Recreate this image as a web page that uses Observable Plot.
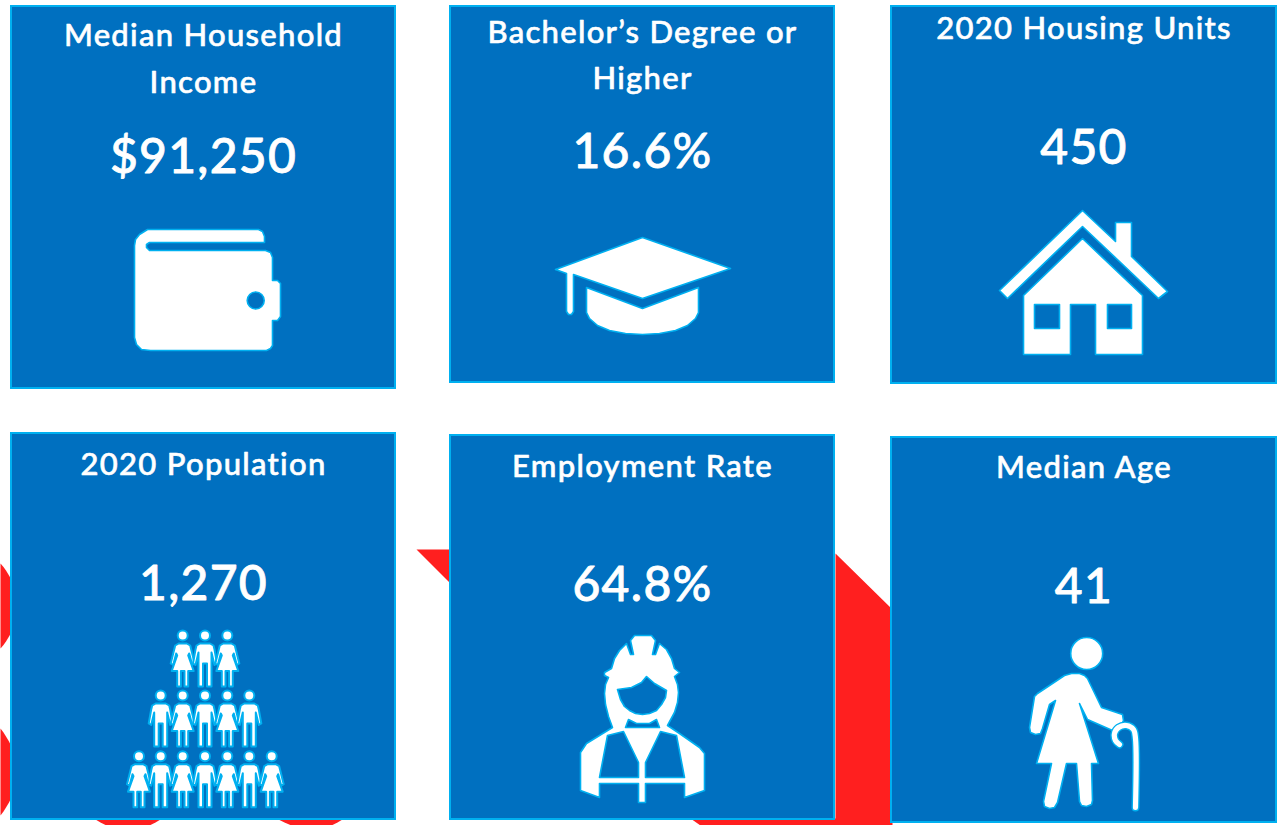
<!DOCTYPE html>
<html><head><meta charset="utf-8">
<style>html,body{margin:0;padding:0;background:#fff}svg{display:block}</style>
<script src="https://cdn.jsdelivr.net/npm/d3@7"></script>
<script src="https://cdn.jsdelivr.net/npm/@observablehq/plot@0.6"></script>
</head><body><div id="chart"></div>
<script>
const titles = ["Median Household\nIncome","Bachelor’s Degree or\nHigher","2020 Housing Units","2020 Population","Employment Rate","Median Age"];
const values = ["$91,250","16.6%","450","1,270","64.8%","41"];
const cardLeft = [11,450,891,11,450,891];
const cardRight = [395,834,1276,395,834,1276];
const cardTop = [6,6,6,433,435,437];
const cardBottom = [388,382,383,819,819,822];
const titleY = [45,42,38,474,476,477];
const titleY2 = [92,88,null,null,null,null];
const valueY = [172,167,163,599,600,602];

const BLUE="#0070C0", EDGE="#00B0F0", RED="#FF1F1F";

const red1=[[0,563],[3,566.5],[5.5,570],[8.5,575],[12,581],[12,630],[8.5,636],[5.5,641],[3,644.5],[0,648]];
const red2=[[0,728],[3,732],[5.5,736],[8.5,741],[12,748],[12,795],[8.5,802],[5.5,807],[3,811],[0,815]];
const red3=[[95,819],[100,822],[106,825],[149,825],[155,822],[160,819]];
const red4=[[278,819],[284,822],[291,825],[331,825],[337,822],[342,819]];
const red5=[[416,549],[451,549],[451,584]];
const red6=[[835,553],[892,609],[892,825],[700,825],[690,818],[835,818]];

const wallet=[[134,245],[135,239],[139,234],[147,229],[258,229],[262,231],[264,236],[264,242],[149,242],[146,244],[146,247],[149,250],[265,250],[270,252],[272,257],[272,280],[277,280],[280,283],[280,316],[277,320],[272,320],[272,345],[270,348],[266,350],[150,350],[141,349],[136,344],[134,337]];
const capTop=[[642,237],[730,268],[642,298],[573,274],[573,311],[571,314],[568,314],[566,311],[566,273],[555,269]];
const capBase=[[586,287],[642,308],[698,287],[698,312],[695,318],[687,325],[675,330],[659,333],[642,334],[625,333],[609,330],[597,325],[589,318],[586,312]];
const houseRoof=[[999,290],[1082,210],[1115,241],[1115,222],[1131,222],[1131,256],[1167,291],[1158,298],[1082,226],[1007,298]];
const houseBody=[[1082,238],[1142,295],[1142,354],[1095,354],[1095,304],[1070,304],[1070,354],[1023,354],[1023,295]];
const houseWin1=[[1034,304],[1059,304],[1059,328],[1034,328]];
const houseWin2=[[1107,304],[1131,304],[1131,328],[1107,328]];
const womanOut=[[-4,8],[4,8],[7.5,10],[8.5,14],[12,28],[9.5,29.5],[6.5,18],[5.5,20],[11,35.5],[5.5,35.5],[5.5,51],[1.8,51],[1.8,35.5],[-1.8,35.5],[-1.8,51],[-5.5,51],[-5.5,35.5],[-11,35.5],[-5.5,20],[-6.5,18],[-9.5,29.5],[-12,28],[-8.5,14],[-7.5,10]];
const manOut=[[-5,8],[5,8],[8.5,10],[9.5,14],[12,28],[9.5,29.5],[6.5,17],[6.5,51],[2,51],[2,28],[-2,28],[-2,51],[-6.5,51],[-6.5,17],[-9.5,29.5],[-12,28],[-9.5,14],[-8.5,10]];
const peopleRows=[
 {y:635,cols:[182.2,204.5,226.8],kinds:"WMW"},
 {y:695,cols:[160.2,182.2,204.5,226.8,248.8],kinds:"MWMWM"},
 {y:755.7,cols:[138.5,160.2,182.2,204.5,226.8,248.8,271.2],kinds:"WMWMWMW"}];
const workerOut=[[604,672],[611,668],[614,658],[619,650],[626,643],[630,654],[633,654],[630,640],[634,635],[651,635],[655,640],[652,654],[655,654],[659,643],[666,649],[671,658],[674,668],[679,672],[674,676],[677,684],[678,692],[677,702],[674,712],[667,725],[679,733],[699,747],[704,753],[704,790],[684,797],[684,783],[645,783],[645,802],[638,802],[638,783],[599,783],[599,797],[580,790],[580,752],[586,743],[612,727],[608,716],[605,704],[604,693],[605,684],[608,677],[604,675]];
const workerFace=[[617,689],[631,687],[641,682],[646,676],[654,683],[666,690],[665,697],[661,704],[656,710],[649,713],[642,714],[635,713],[629,710],[624,706],[620,699]];
const workerNeck=[[628,719],[636,723],[649,723],[656,719],[659,727],[625,727]];
const workerVestL=[[607,735],[623,731],[638,762],[638,777],[599,777]];
const workerVestR=[[660,731],[676,735],[684,777],[645,777],[645,762]];
const elderBody=[[1064,675],[1071,673],[1079,673],[1084,675],[1087,678],[1101,707],[1122,714],[1123,720],[1118,731],[1112,730],[1087,719],[1079,703],[1098,763],[1091,763],[1092,800],[1091,804],[1086,806],[1081,805],[1079,801],[1076,763],[1066,763],[1057,802],[1054,807],[1049,808],[1044,806],[1043,801],[1051,763],[1036,763],[1055,700],[1049,704],[1042,728],[1040,733],[1035,734],[1030,732],[1029,727],[1034,696],[1037,693]];
const elderCane=[[1119,744],[1115,740],[1114,733],[1118,727],[1126,725],[1133,729],[1135,738],[1135,807]];

const rows=(pts,id)=>pts.map(([x,y])=>({x,y,id}));
const shape=(list,opts)=>Plot.line(list.flatMap((p,i)=>rows(p,i)),{x:"x",y:"y",z:"id",curve:"linear-closed",...opts});
const people=peopleRows.flatMap(r=>r.cols.map((cx,i)=>({cx,y:r.y,k:r.kinds[i]})));
const peoplePts=people.flatMap((p,i)=>(p.k==="W"?womanOut:manOut).map(([dx,dy])=>({x:p.cx+dx,y:p.y+dy,id:i})));
const cards=titles.map((t,i)=>({l:cardLeft[i],r:cardRight[i],t:cardTop[i],b:cardBottom[i],cx:(cardLeft[i]+cardRight[i])/2}));
const titleRows=titles.flatMap((t,i)=>t.split("\n").map((s,j)=>({s,x:cards[i].cx,y:j?titleY2[i]:titleY[i]})));
const valueRows=values.map((s,i)=>({s,x:cards[i].cx,y:valueY[i]}));
const FONT="Lato, 'Noto Sans', sans-serif";
const edge={stroke:EDGE,strokeWidth:1.6,strokeLinejoin:"round"};

const plot=Plot.plot({
 width:1280,height:825,margin:0,
 style:{background:"#fff",letterSpacing:"1.3px"},
 x:{domain:[0,1280],range:[0,1280],axis:null},
 y:{domain:[0,825],range:[0,825],axis:null},
 marks:[
  shape([red1,red2,red3,red4,red5,red6],{fill:RED}),
  Plot.rect(cards,{x1:"l",x2:"r",y1:"t",y2:"b",fill:BLUE,stroke:EDGE,strokeWidth:2}),
  shape([wallet,capTop,capBase,houseRoof,houseBody,workerOut,elderBody],{fill:"#fff",...edge}),
  shape([houseWin1,houseWin2,workerFace,workerNeck,workerVestL,workerVestR],{fill:BLUE,...edge}),
  Plot.dot([{x:255.2,y:300}],{x:"x",y:"y",r:8.5,fill:BLUE,...edge}),
  Plot.dot([{x:1086.2,y:653}],{x:"x",y:"y",r:16,fill:"#fff",...edge}),
  Plot.line(elderCane,{x:d=>d[0],y:d=>d[1],stroke:EDGE,strokeWidth:8,strokeLinecap:"round",curve:"catmull-rom"}),
  Plot.line(elderCane,{x:d=>d[0],y:d=>d[1],stroke:"#fff",strokeWidth:5.2,strokeLinecap:"round",curve:"catmull-rom"}),
  Plot.line(peoplePts,{x:"x",y:"y",z:"id",curve:"linear-closed",fill:"#fff",stroke:EDGE,strokeWidth:2,strokeLinejoin:"round"}),
  Plot.dot(people,{x:"cx",y:"y",r:5,fill:"#fff",stroke:EDGE,strokeWidth:2}),
  Plot.text(titleRows,{x:"x",y:"y",text:"s",fill:"#fff",stroke:"#fff",strokeWidth:0.6,fontSize:31,fontFamily:FONT,fontWeight:500,textAnchor:"middle",lineAnchor:"bottom"}),
  Plot.text(valueRows,{x:"x",y:"y",text:"s",fill:"#fff",stroke:"#fff",strokeWidth:0.8,fontSize:48,fontFamily:FONT,fontWeight:500,textAnchor:"middle",lineAnchor:"bottom"})
 ]
});
document.getElementById("chart").appendChild(plot);
</script></body></html>
